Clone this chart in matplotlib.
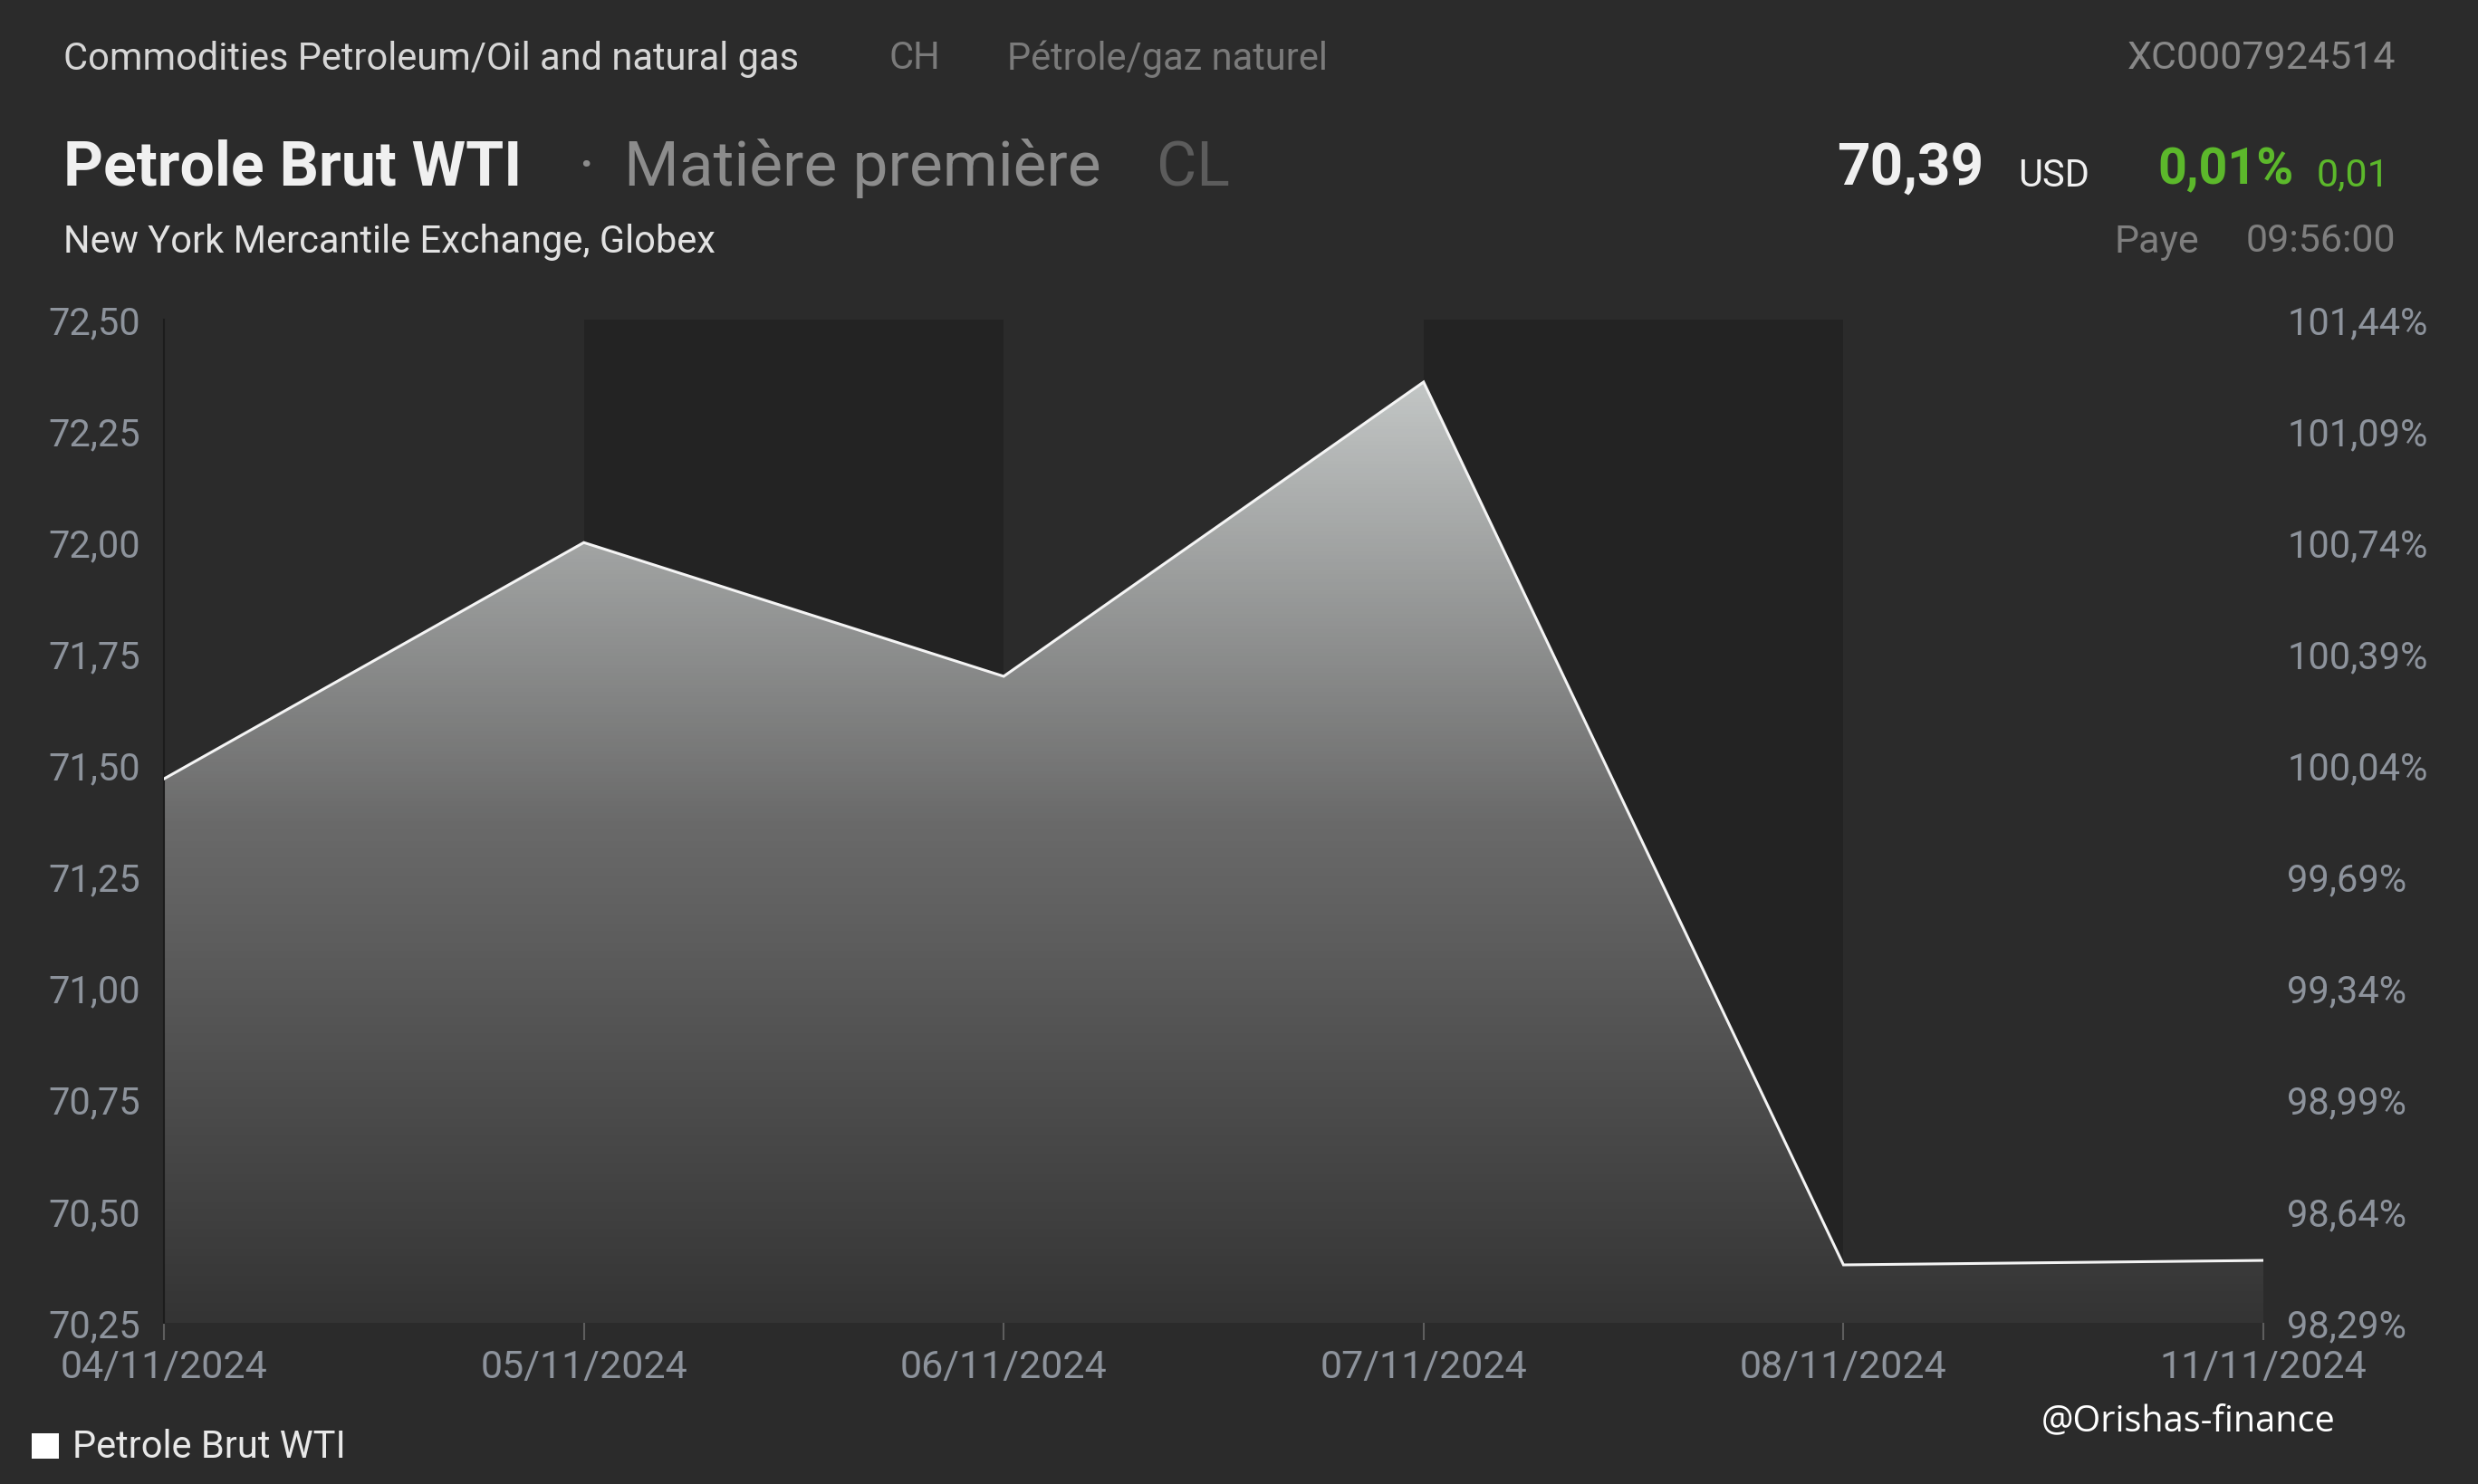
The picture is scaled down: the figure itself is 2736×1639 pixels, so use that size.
import matplotlib
matplotlib.use("Agg")
import matplotlib.pyplot as plt
import numpy as np
from matplotlib.colors import LinearSegmentedColormap

# data
dates = ["04/11/2024", "05/11/2024", "06/11/2024", "07/11/2024", "08/11/2024", "11/11/2024"]
prices = [71.47, 72.00, 71.70, 72.36, 70.38, 70.39]
y_ticks = [70.25, 70.50, 70.75, 71.00, 71.25, 71.50, 71.75, 72.00, 72.25, 72.50]
dark_bands = [(1, 2), (3, 4)]

W, H = 2736, 1639
BG = "#2b2b2b"
BAND = "#232323"
TICK_COL = "#8d939c"
GREEN = "#5cb82b"

plt.rcParams["font.family"] = ["Roboto", "DejaVu Sans"]


def fx(px):
    return px / W


def fy(py):
    return 1 - py / H


def comma(v, nd=2):
    return f"{v:.{nd}f}".replace(".", ",")


fig = plt.figure(figsize=(W / 100, H / 100), dpi=100)
fig.patch.set_facecolor(BG)

ax = fig.add_axes([fx(181), fy(1461), fx(2499) - fx(181), fy(353) - fy(1461)])
ax.set_facecolor(BG)

x = np.arange(len(prices))
ax.set_xlim(0, len(prices) - 1)
ax.set_ylim(y_ticks[0], y_ticks[-1])

for a, b in dark_bands:
    ax.axvspan(a, b, color=BAND, zorder=0, linewidth=0)

# gradient area under the line
cmap = LinearSegmentedColormap.from_list("g", ["#343434", "#6a6a6a", "#cfd3d2"])
grad = np.linspace(0, 1, 256).reshape(-1, 1)
img = ax.imshow(grad, extent=[0, len(prices) - 1, y_ticks[0], y_ticks[-1]],
                origin="lower", aspect="auto", cmap=cmap, zorder=1)
poly = ax.fill_between(x, prices, y_ticks[0], facecolor="none", edgecolor="none")
img.set_clip_path(poly.get_paths()[0], transform=ax.transData)

ax.plot(x, prices, color="#f4f4f4", linewidth=2.2, zorder=3, solid_joinstyle="miter")

ax.set_xticks(x)
ax.set_xticklabels(dates)
ax.set_yticks(y_ticks)
ax.set_yticklabels([comma(v) for v in y_ticks])
ax.tick_params(axis="x", length=14, width=1.5, color="#5e5e5e", pad=7,
               labelsize=31, labelcolor=TICK_COL)
ax.tick_params(axis="y", length=0, pad=19, labelsize=30, labelcolor=TICK_COL)

for side in ("top", "right", "bottom"):
    ax.spines[side].set_visible(False)
ax.spines["left"].set_color("#1c1c1c")
ax.spines["left"].set_linewidth(1.5)

# right axis in percent of the first value
base = prices[0]
ax2 = ax.twinx()
ax2.set_ylim(ax.get_ylim())
ax2.set_yticks(y_ticks)
ax2.set_yticklabels([comma(v / base * 100) + "%" for v in y_ticks])
ax2.tick_params(axis="y", length=0, pad=19, labelsize=30, labelcolor=TICK_COL)
for side in ax2.spines:
    ax2.spines[side].set_visible(False)

# header
fig.text(fx(70), fy(65), "Commodities Petroleum/Oil and natural gas", fontsize=30,
         color="#d6d6d6", va="center")
fig.text(fx(982), fy(65), "CH", fontsize=30, color="#7a7a7a", va="center")
fig.text(fx(1112), fy(65), "Pétrole/gaz naturel", fontsize=30, color="#7a7a7a", va="center")
fig.text(fx(2645), fy(65), "XC0007924514", fontsize=31, color="#888888", va="center", ha="right")

fig.text(fx(70), fy(186), "Petrole Brut WTI", fontsize=49, fontweight="bold",
         color="#f0f0f0", va="center")
fig.text(fx(638), fy(186), "·", fontsize=49, color="#8c8c8c", va="center")
fig.text(fx(689), fy(186), "Matière première", fontsize=50, color="#8c8c8c", va="center")
fig.text(fx(1277), fy(186), "CL", fontsize=49, color="#5c5c5c", va="center")

fig.text(fx(2190), fy(186), "70,39", fontsize=46, fontweight="bold", color="#f0f0f0",
         va="center", ha="right")
fig.text(fx(2228), fy(194), "USD", fontsize=30, color="#f0f0f0", va="center")
fig.text(fx(2382), fy(188), "0,01%", fontsize=40, fontweight="bold", color=GREEN, va="center")
fig.text(fx(2638), fy(194), "0,01", fontsize=31, color=GREEN, va="center", ha="right")

fig.text(fx(70), fy(267), "New York Mercantile Exchange, Globex", fontsize=30,
         color="#e2e2e2", va="center")
fig.text(fx(2335), fy(267), "Paye", fontsize=31, color="#7e7e7e", va="center")
fig.text(fx(2645), fy(267), "09:56:00", fontsize=31, color="#7e7e7e", va="center", ha="right")

# legend
fig.patches.append(plt.Rectangle((fx(35), fy(1611)), fx(30), fy(1583) - fy(1611),
                                 transform=fig.transFigure, facecolor="white",
                                 edgecolor="none"))
fig.text(fx(80), fy(1599), "Petrole Brut WTI", fontsize=30, color="#e8e8e8", va="center")

fig.text(fx(2579), fy(1570), "@Orishas-finance", fontsize=28.5, color="white",
         va="center", ha="right", family=["Open Sans", "DejaVu Sans"])

fig.savefig("out.png", dpi=100, facecolor=BG)
